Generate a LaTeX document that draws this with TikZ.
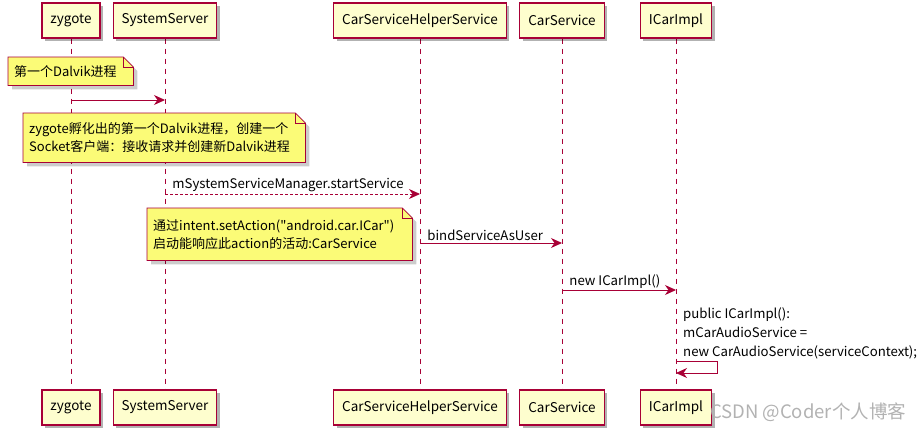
\documentclass[tikz,border=0pt]{standalone}
\usepackage{fontspec}
\newfontfamily\umlfont{Noto Sans CJK SC}
\usetikzlibrary{arrows.meta,positioning,calc,shadows,backgrounds}
\definecolor{umlRed}  {HTML}{A80036}
\definecolor{boxFill} {HTML}{FEFECE}
\definecolor{noteFill}{HTML}{FBFB77}

\tikzset{
  actor/.style={draw=umlRed,fill=boxFill,line width=1.1pt,minimum height=35pt,
    inner xsep=8.5pt,font=\umlfont\fontsize{13.5}{16}\selectfont,
    drop shadow={shadow xshift=3pt,shadow yshift=-3pt,opacity=0.3,fill=black}},
  lifeline/.style={draw=umlRed,line width=0.8pt,dash pattern=on 5pt off 5pt},
  notetext/.style={anchor=north west,inner xsep=6pt,inner ysep=0pt,align=left,
    font=\umlfont\fontsize{13}{18}\selectfont},
  notebox/.style={draw=umlRed,fill=noteFill,line width=0.8pt},
  msg/.style={draw=umlRed,line width=0.9pt,
    -{Stealth[length=11pt,width=10pt,inset=3.5pt]}},
  msglabel/.style={inner xsep=7pt,inner ysep=1.5pt,
    font=\umlfont\fontsize{13.2}{19}\selectfont},
  watermark/.style={text=black!30,font=\umlfont\fontsize{18.5}{22}\selectfont}
}

\newcommand{\drawnote}[1]{%
  \fill[black,opacity=0.2] ($(#1.north west)+(4,4)$) -- ($(#1.north east)+(-6,4)$)
    -- ($(#1.north east)+(4,14)$) -- ($(#1.south east)+(4,4)$)
    -- ($(#1.south west)+(4,4)$) -- cycle;
  \filldraw[notebox] (#1.north west) -- ($(#1.north east)+(-10,0)$)
    -- ($(#1.north east)+(0,10)$) -- (#1.south east) -- (#1.south west) -- cycle;
  \draw[notebox,fill=none] ($(#1.north east)+(-10,0)$) |- ($(#1.north east)+(0,10)$);
}

\begin{document}
\begin{tikzpicture}[x=1pt,y=-1pt]
\useasboundingbox (0,0) rectangle (924,434);

% participants, top and bottom
\foreach \n/\txt/\x in {zy/zygote/71, ss/SystemServer/165,
    cshs/CarServiceHelperService/420, cs/CarService/562, impl/ICarImpl/676}{
  \node[actor] (\n Top) at (\x,20.5) {\txt};
  \node[actor] (\n Bot) at (\x,407.5) {\txt};
}

% notes
\node[notetext,text width=113pt,minimum height=28pt] (note1) at (8,57)
  {第一个Dalvik进程};
\node[notetext,text width=270pt,minimum height=49pt] (note2) at (23,113)
  {zygote孵化出的第一个Dalvik进程，创建一个\\Socket客户端：接收请求并创建新Dalvik进程};
\node[notetext,text width=253pt,minimum height=52pt] (note3) at (147,208)
  {通过intent.setAction("android.car.ICar")\\启动能响应此action的活动:CarService};

\begin{scope}[on background layer]
  \foreach \n in {zy,ss,cshs,cs,impl}
    \draw[lifeline] (\n Top) -- (\n Bot);
  \drawnote{note1}
  \drawnote{note2}
  \drawnote{note3}
\end{scope}

% messages
\coordinate (m1a) at (zyTop |- 0,100);
\coordinate (m1b) at (ssTop |- 0,100);
\draw[msg] (m1a) -- (m1b);

\coordinate (m2a) at (ssTop |- 0,194);
\coordinate (m2b) at (cshsTop |- 0,194);
\draw[msg,dash pattern=on 2.5pt off 2.5pt] (m2a) -- (m2b)
  node[msglabel,pos=0,anchor=south west] (lbl2) {mSystemServiceManager.startService};

\coordinate (m3a) at (cshsTop |- 0,243);
\coordinate (m3b) at (csTop |- 0,243);
\draw[msg] (m3a) -- (m3b)
  node[msglabel,pos=0,anchor=south west] (lbl3) {bindServiceAsUser};

\coordinate (m4a) at (csTop |- 0,290);
\coordinate (m4b) at (implTop |- 0,290);
\draw[msg] (m4a) -- (m4b)
  node[msglabel,pos=0,anchor=south west] (lbl4) {new ICarImpl()};

% self call on ICarImpl
\coordinate (self1) at (implTop |- 0,361);
\coordinate (self2) at (implTop |- 0,373);
\node[msglabel,anchor=south west,align=left] (lbl5) at (self1)
  {public ICarImpl():\\mCarAudioService =\\new CarAudioService(serviceContext);};
\draw[msg] (self1) -- ++(41,0) |- (self2);

\node[watermark] (wm) at (808,412) {CSDN @Coder个人博客};
\end{tikzpicture}
\end{document}
